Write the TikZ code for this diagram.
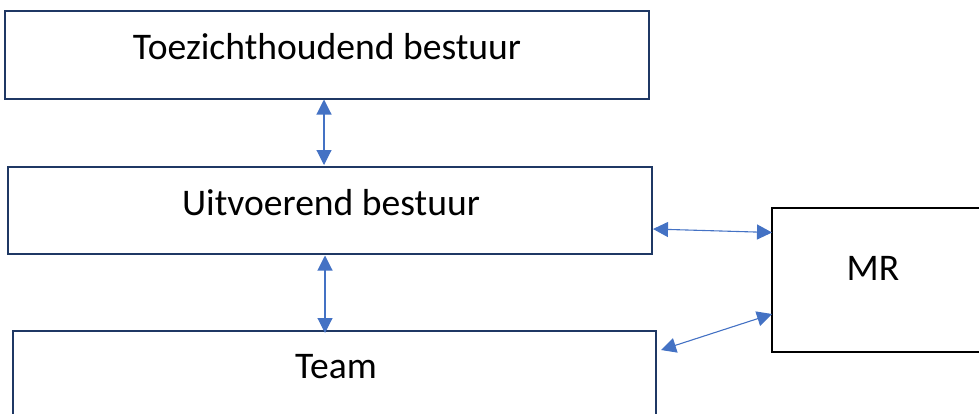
\documentclass[tikz,border=0pt]{standalone}
\usepackage{fontspec}
\setmainfont{Carlito}
\usetikzlibrary{arrows.meta}
\definecolor{boxnavy}{HTML}{1F3864}
\definecolor{arrowblue}{HTML}{4472C4}
\tikzset{
  orgbox/.style={draw=boxnavy, line width=2.8pt, fill=white, inner sep=0pt},
  mrbox/.style={draw=black, line width=2.8pt, fill=white, inner sep=0pt},
  lbl/.style={font=\fontsize{37.6}{45}\selectfont, inner sep=0pt, text=black},
  dblarrow/.style={draw=arrowblue, line width=1.1pt, {Triangle[length=15pt,width=15pt]}-{Triangle[length=15pt,width=15pt]}, shorten <=0pt, shorten >=0pt},
}
\begin{document}
\begin{tikzpicture}[x=1pt,y=-1pt]
\useasboundingbox (0,0) rectangle (979,413);
\clip (0,0) rectangle (979,413);
\node[orgbox, minimum width=644pt, minimum height=88pt] (tb) at (327,55) {};
\node[lbl] (tbt) at (327,47) {Toezichthoudend bestuur};
\node[orgbox, minimum width=644pt, minimum height=87pt] (ub) at (330,210.5) {};
\node[lbl] (ubt) at (331,203) {Uitvoerend bestuur};
\node[orgbox, minimum width=643pt, minimum height=100pt] (team) at (334.5,381) {};
\node[lbl] (teamt) at (336,367) {Team};
\node[mrbox, minimum width=220pt, minimum height=144pt] (mr) at (882,280) {};
\node[lbl] (mrt) at (873,268) {MR};
\coordinate (a1s) at (324,99.5);
\coordinate (a1e) at (324,165);
\coordinate (a2s) at (325,255.5);
\coordinate (a2e) at (325,333);
\coordinate (a3s) at (653,229);
\coordinate (a3e) at (772,232.5);
\coordinate (a4s) at (661,350);
\coordinate (a4e) at (772,314);
\draw[dblarrow] (a1s) -- (a1e);
\draw[dblarrow] (a2s) -- (a2e);
\draw[dblarrow] (a3s) -- (a3e);
\draw[dblarrow] (a4s) -- (a4e);
\end{tikzpicture}
\end{document}
